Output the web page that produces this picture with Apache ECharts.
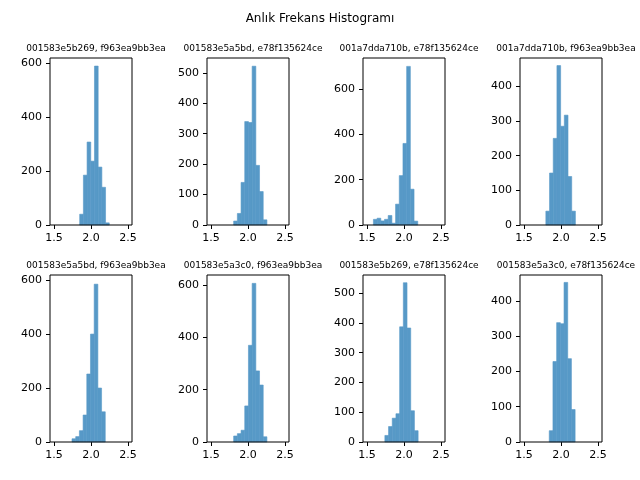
<!DOCTYPE html>
<html>
<head>
<meta charset="utf-8">
<script src="https://cdn.jsdelivr.net/npm/echarts@6/dist/echarts.min.js"></script>
<style>html,body{margin:0;padding:0;background:#fff}#main{width:640px;height:480px}</style>
</head>
<body>
<div id="main"></div>
<script>
// histogram data, bin width 0.05
var panelTitles = [
  '001583e5b269, f963ea9bb3ea', '001583e5a5bd, e78f135624ce',
  '001a7dda710b, e78f135624ce', '001a7dda710b, f963ea9bb3ea',
  '001583e5a5bd, f963ea9bb3ea', '001583e5a3c0, f963ea9bb3ea',
  '001583e5b269, e78f135624ce', '001583e5a3c0, e78f135624ce'
];
var binStarts = [1.847, 1.806, 1.586, 1.795, 1.743, 1.806, 1.741, 1.841];
var binWidth = 0.05;
var counts1 = [40, 185, 308, 237, 590, 215, 140, 8];
var counts2 = [13, 38, 140, 340, 337, 522, 196, 110, 17];
var counts3 = [25, 30, 18, 25, 42, 8, 92, 218, 360, 700, 158, 17];
var counts4 = [40, 150, 250, 460, 285, 317, 140, 40];
var counts5 = [12, 20, 42, 100, 252, 400, 585, 200, 112];
var counts6 = [23, 32, 45, 138, 370, 607, 272, 218, 20];
var counts7 = [22, 52, 80, 95, 387, 535, 383, 105, 38];
var counts8 = [32, 228, 338, 335, 452, 236, 92];
var allCounts = [counts1, counts2, counts3, counts4, counts5, counts6, counts7, counts8];
var yMax = [620, 549, 737, 482, 619, 639, 561, 473];
var yTicks = [
  [0, 200, 400, 600], [0, 100, 200, 300, 400, 500],
  [0, 200, 400, 600], [0, 100, 200, 300, 400],
  [0, 200, 400, 600], [0, 200, 400, 600],
  [0, 100, 200, 300, 400, 500], [0, 100, 200, 300, 400]
];
var xTicks = [1.5, 2.0, 2.5];

var lefts = [50, 207, 363, 520];
var tops = [58, 275];
var W = 82, H = 167;
var font = 'DejaVu Sans';

var grids = [], xAxes = [], yAxes = [], series = [];
var titles = [{
  text: 'Anlık Frekans Histogramı', left: 'center', top: 8,
  textStyle: {fontFamily: font, fontSize: 12, fontWeight: 'normal', color: '#000'}
}];
for (var i = 0; i < 8; i++) {
  var l = lefts[i % 4], t = tops[Math.floor(i / 4)];
  grids.push({left: l, top: t, width: W, height: H, show: true, borderColor: '#000', borderWidth: 1, z: 5});
  titles.push({
    text: panelTitles[i], left: l + W / 2, top: t - 19, textAlign: 'center',
    textStyle: {fontFamily: font, fontSize: 9, fontWeight: 'normal', color: '#000'}
  });
  xAxes.push({
    type: 'value', gridIndex: i, min: 1.445, max: 2.555,
    axisLine: {show: false}, splitLine: {show: false},
    axisTick: {show: true, customValues: xTicks, length: 4, lineStyle: {color: '#000'}},
    axisLabel: {customValues: xTicks, color: '#000', fontFamily: font, fontSize: 11,
      formatter: function (v) { return v.toFixed(1); }}
  });
  yAxes.push({
    type: 'value', gridIndex: i, min: 0, max: yMax[i],
    axisLine: {show: false}, splitLine: {show: false},
    axisTick: {show: true, customValues: yTicks[i], length: 4, lineStyle: {color: '#000'}},
    axisLabel: {customValues: yTicks[i], color: '#000', fontFamily: font, fontSize: 11}
  });
  var data = allCounts[i].map(function (c, k) {
    var x0 = binStarts[i] + k * binWidth;
    return [x0, x0 + binWidth, c];
  });
  series.push({
    type: 'custom', xAxisIndex: i, yAxisIndex: i, data: data,
    encode: {x: [0, 1], y: 2},
    renderItem: function (params, api) {
      var p0 = api.coord([api.value(0), api.value(2)]);
      var p1 = api.coord([api.value(1), 0]);
      return {type: 'rect', shape: {x: p0[0], y: p0[1], width: p1[0] - p0[0], height: p1[1] - p0[1]},
        style: {fill: '#5799c7', stroke: '#5799c7', lineWidth: 0.6}};
    }
  });
}
var chart = echarts.init(document.getElementById('main'));
chart.setOption({
  animation: false, backgroundColor: '#fff',
  title: titles, grid: grids, xAxis: xAxes, yAxis: yAxes, series: series
});
</script>
</body>
</html>
